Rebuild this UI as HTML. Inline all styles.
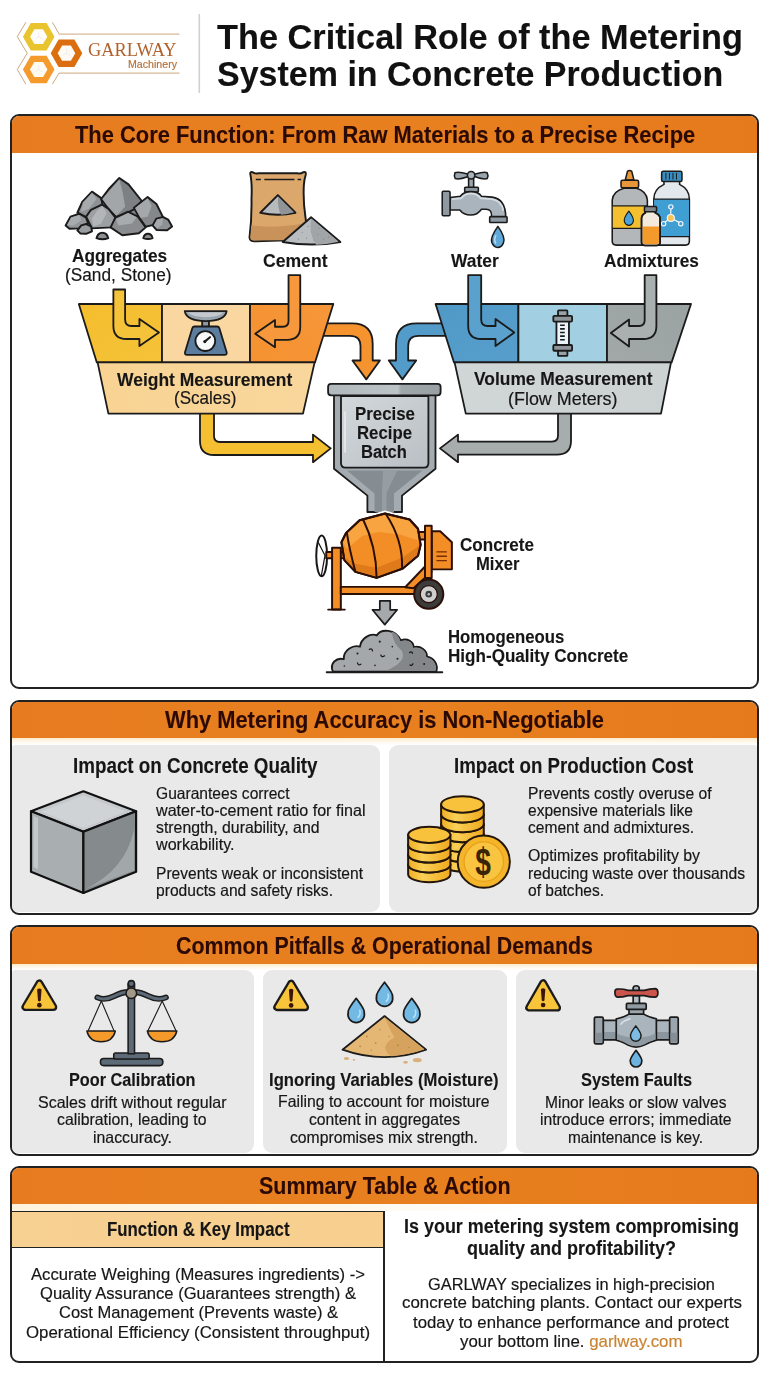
<!DOCTYPE html>
<html lang="en"><head><meta charset="utf-8"><title>The Critical Role of the Metering System in Concrete Production</title>
<style>
html,body{margin:0;padding:0;background:#fff}
#page{position:relative;width:768px;height:1376px;overflow:hidden;background:#fff;font-family:"Liberation Sans",sans-serif}
.box{position:absolute;left:9.9px;width:749.4px;box-sizing:border-box;border:2px solid #222;border-radius:9px;background:#fff;overflow:hidden}
.hd{position:absolute;left:0;top:0;right:0;background:linear-gradient(90deg,#E67C1F 0%,#E8801F 55%,#E57A1C 100%)}
.card{position:absolute;background:#E9E9E9;border-radius:9px}
.strip{position:absolute;left:0;right:0;background:linear-gradient(180deg,#FDEBCB 0%,#FEF8EC 55%,#FFFFFF 100%)}
#art{position:absolute;left:0;top:0;width:768px;height:1376px}
.t{position:absolute;white-space:nowrap;line-height:1;transform-origin:0 0;margin:0;padding:0}
</style></head>
<body><div id="page">

<div class="box" style="top:114.2px;height:575px"><div class="hd" style="height:37.3px"></div></div>
<div class="box" style="top:699.8px;height:215.2px"><div class="hd" style="height:36.6px"></div>
  <div class="strip" style="top:36.6px;height:6.3px"></div>
  <div class="card" style="left:0;top:42.9px;width:368px;height:167.5px;border-top-left-radius:3px;border-bottom-left-radius:6px"></div>
  <div class="card" style="left:377px;top:42.9px;width:368.4px;height:167.5px;border-top-right-radius:3px;border-bottom-right-radius:6px"></div>
</div>
<div class="box" style="top:925.3px;height:230.3px"><div class="hd" style="height:36.5px"></div>
  <div class="strip" style="top:36.5px;height:6.3px"></div>
  <div class="card" style="left:0;top:42.8px;width:242px;height:182.5px;border-top-left-radius:3px;border-bottom-left-radius:6px"></div>
  <div class="card" style="left:251px;top:42.8px;width:244px;height:182.5px"></div>
  <div class="card" style="left:504px;top:42.8px;width:241.4px;height:182.5px;border-top-right-radius:3px;border-bottom-right-radius:6px"></div>
</div>
<div class="box" style="top:1165.7px;height:197.3px"><div class="hd" style="height:36.4px"></div>
  <div style="position:absolute;left:0;right:0;top:36.4px;height:7px;background:linear-gradient(90deg,#FEF3DC 0%,#FEF8EA 40%,#FFFFFF 70%)"></div>
  <div style="position:absolute;left:0;top:43.2px;width:373.5px;height:37px;background:linear-gradient(90deg,#F7D192,#F8CF8F);border-top:1.5px solid #222;border-bottom:1.5px solid #222;box-sizing:border-box"></div>
  <div style="position:absolute;left:371.6px;top:43.2px;width:2px;bottom:0;background:#222"></div>
</div>

<svg id="art" viewBox="0 0 768 1376" width="768" height="1376"><defs>
<linearGradient id="gLabL" x1="0" x2="1" y1="0" y2="0"><stop offset="0" stop-color="#F8D393"/><stop offset="1" stop-color="#F9D79C"/></linearGradient>
<linearGradient id="gLabR" x1="0" x2="1" y1="0" y2="0"><stop offset="0" stop-color="#D1D6D7"/><stop offset="1" stop-color="#CCD1D2"/></linearGradient>
<linearGradient id="gFun" x1="0" x2="1" y1="0" y2="1"><stop offset="0" stop-color="#D3D8DB"/><stop offset="1" stop-color="#B9BFC4"/></linearGradient>
<linearGradient id="gRim" x1="0" x2="1" y1="0" y2="0"><stop offset="0" stop-color="#B2B9BD"/><stop offset=".62" stop-color="#BDC4C7"/><stop offset=".65" stop-color="#9FA7AB"/><stop offset="1" stop-color="#98A0A4"/></linearGradient>
<linearGradient id="gCoin" x1="0" x2="1" y1="0" y2="0"><stop offset="0" stop-color="#F0AE22"/><stop offset=".35" stop-color="#FAD056"/><stop offset="1" stop-color="#EFA91E"/></linearGradient>
<linearGradient id="gYel" x1="0" x2="1" y1="0" y2="1"><stop offset="0" stop-color="#F4BD2D"/><stop offset="1" stop-color="#F5C339"/></linearGradient>
<linearGradient id="gOra" x1="0" x2="1" y1="1" y2="0"><stop offset="0" stop-color="#F59130"/><stop offset="1" stop-color="#F6973A"/></linearGradient>
<linearGradient id="gBlu" x1="0" x2="1" y1="0" y2="1"><stop offset="0" stop-color="#5099C7"/><stop offset="1" stop-color="#579ECC"/></linearGradient>
<linearGradient id="gGry" x1="0" x2="1" y1="1" y2="0"><stop offset="0" stop-color="#A1A8A7"/><stop offset="1" stop-color="#9BA3A2"/></linearGradient>
</defs><!-- LOGO -->
<g fill="none" stroke="#B98248" stroke-width="0.7">
  <polyline points="25.8,22.3 17.3,36.7 27.2,53.2 17.3,69.5 25.8,84.1"/>
  <polyline points="52.4,22.3 59.2,34.1 179.5,34.1"/>
  <polyline points="52.4,84.1 59,73.1 179.5,73.1"/>
</g>
<polygon points="54.5,36.7 46.6,50.4 30.8,50.4 22.9,36.7 30.8,23.0 46.6,23.0" fill="#EAC42E"/>
<polygon points="47.3,36.7 43.0,44.1 34.4,44.1 30.1,36.7 34.4,29.3 43.0,29.3" fill="#FFFDF6"/>
<polygon points="82.3,53.2 74.4,66.9 58.6,66.9 50.7,53.2 58.6,39.5 74.4,39.5" fill="#DB6F10"/>
<polygon points="75.3,53.2 70.9,60.8 62.1,60.8 57.7,53.2 62.1,45.6 70.9,45.6" fill="#FFFBF4"/>
<polygon points="54.5,69.5 46.6,83.2 30.8,83.2 22.9,69.5 30.8,55.8 46.6,55.8" fill="#F59A2C"/>
<polygon points="47.5,69.5 43.1,77.1 34.3,77.1 29.9,69.5 34.3,61.9 43.1,61.9" fill="#FFFBF2"/>
<g stroke="#E4EAEC" stroke-width="0.7" fill="none"><path d="M38.7,36.7 L38.7,32.2 M38.7,36.7 L34.8,39.0 M38.7,36.7 L42.6,39.0"/><path d="M66.5,53.2 L66.5,48.7 M66.5,53.2 L62.6,55.5 M66.5,53.2 L70.4,55.5"/><path d="M38.7,69.5 L38.7,65.0 M38.7,69.5 L34.8,71.8 M38.7,69.5 L42.6,71.8"/></g>
<line x1="199.3" y1="14" x2="199.3" y2="93" stroke="#D0D0D0" stroke-width="1.6"/>

<!-- ROCKS (Aggregates) -->
<g transform="translate(50,160) scale(0.1953)" stroke="#1b1b1b" stroke-width="10" stroke-linejoin="round">
  <path d="M200,270 L290,215 L450,240 L520,320 L200,340Z" fill="#808386" stroke="none"/>
  <path d="M140,270 L165,215 L215,162 L262,195 L270,235 L210,262 L185,292 Z" fill="#8f9295"/>
  <path d="M168,218 L215,168 L238,200 L200,250 L160,265Z" fill="#a7aaad" stroke="none"/>
  <path d="M262,200 L300,150 L355,92 L402,125 L470,210 L432,252 L400,268 L340,292 L300,250 Z" fill="#7e8184"/>
  <path d="M268,200 L355,99 L372,165 L385,240 L340,286 L303,247Z" fill="#a3a6a9" stroke="none"/>
  <path d="M430,245 L500,190 L545,225 L580,295 L530,332 L490,342 L460,300 Z" fill="#85888b"/>
  <path d="M436,246 L500,196 L520,235 L500,290 L463,296Z" fill="#a5a8ab" stroke="none"/>
  <path d="M80,335 L105,290 L150,275 L185,295 L195,325 L150,350 L100,352 Z" fill="#94979a"/>
  <path d="M88,333 L108,294 L150,281 L160,310 L120,335Z" fill="#a9acaf" stroke="none"/>
  <path d="M185,290 L210,255 L265,228 L300,250 L335,295 L315,345 L215,350 Z" fill="#9da0a3"/>
  <path d="M215,300 L240,262 L268,235 L290,270 L262,325 L222,340Z" fill="#b3b6b9" stroke="none"/>
  <path d="M525,335 L545,300 L580,292 L605,305 L625,340 L600,360 L545,358 Z" fill="#8e9194"/>
  <path d="M532,334 L549,304 L578,298 L575,330 L550,350Z" fill="#a6a9ac" stroke="none"/>
  <path d="M310,345 L335,295 L400,265 L450,290 L490,345 L455,375 L370,385 Z" fill="#8a8d90"/>
  <path d="M338,302 L400,271 L444,293 L420,325 L350,335Z" fill="#a8abae" stroke="none"/>
  <path d="M140,360 L160,335 L185,328 L210,340 L215,365 L185,378 L155,376Z" fill="#9a9da0"/>
  <path d="M238,400 Q245,372 268,372 Q292,372 298,400 Q270,412 238,400Z" fill="#8d9093"/>
  <path d="M478,400 Q483,378 502,378 Q520,378 525,400 Q502,410 478,400Z" fill="#8d9093"/>
</g>

<!-- CEMENT BAG -->
<g transform="translate(230,160) scale(0.1953)" stroke="#1b1b1b" stroke-width="10" stroke-linejoin="round">
  <path d="M104,72 Q102,60 114,62 Q128,72 145,68 L345,68 Q362,72 376,62 Q390,58 388,74 Q380,100 378,130 Q374,210 386,290 Q397,360 392,398 Q392,416 374,414 L290,411 L132,416 Q102,420 100,398 Q112,300 110,200 Q114,120 104,72 Z" fill="#DBA76B"/>
  <path d="M109,335 Q220,352 390,322 Q396,360 392,398 Q391,412 374,410 L132,412 Q106,414 104,398 Z" fill="#C9925B" stroke="none"/>
  <path d="M132,100 L158,100 M176,100 L330,100 M346,100 L364,100" stroke-width="7" fill="none"/>
  <path d="M155,270 L245,180 L335,270 Q245,290 155,270 Z" fill="#B7BBBE"/>
  <path d="M247,188 L328,268 Q290,279 262,280 Q240,240 247,188 Z" fill="#909497" stroke="none"/>
  <path d="M270,420 L415,293 L565,420 Q420,446 270,420Z" fill="#B9BDC0"/>
  <path d="M417,300 L556,418 Q490,432 440,434 Q400,370 417,300 Z" fill="#A1A5A8" stroke="none"/>
  <g fill="#7d8184" stroke="none"><circle cx="370" cy="370" r="3"/><circle cx="400" cy="340" r="3"/><circle cx="350" cy="405" r="3"/><circle cx="450" cy="380" r="3"/><circle cx="480" cy="405" r="3"/><circle cx="430" cy="410" r="3"/><circle cx="505" cy="395" r="3"/><circle cx="392" cy="400" r="3"/><circle cx="455" cy="350" r="3"/></g>
</g>

<!-- WATER TAP -->
<g transform="translate(410,160) scale(0.1953)" stroke="#1b1b1b" stroke-width="8" stroke-linejoin="round">
  <rect x="300" y="92" width="26" height="55" fill="#9aa4ac"/>
  <path d="M230,65 Q224,80 232,95 Q250,102 295,86 L335,86 Q380,102 395,95 Q403,80 395,65 Q380,58 335,72 L295,72 Q250,58 230,65Z" fill="#9aa4ac"/>
  <circle cx="313" cy="78" r="19" fill="#aab3ba"/>
  <rect x="280" y="140" width="70" height="24" rx="4" fill="#8c969e"/>
  <path d="M205,192 L258,186 Q275,162 312,162 Q350,162 366,186 L420,190 Q490,200 490,292 L418,292 Q420,252 390,252 L366,252 Q345,282 310,282 Q275,282 255,256 L205,256 Z" fill="#A9B4BD"/>
  <path d="M215,200 L262,196 Q280,172 312,172 Q345,172 362,196 L420,200 Q470,208 478,260" fill="none" stroke="#D5DDE3" stroke-width="9"/>
  <rect x="165" y="160" width="40" height="125" rx="6" fill="#8E99A2"/>
  <rect x="408" y="290" width="89" height="30" rx="4" fill="#8E99A2"/>
  <path d="M450,340 Q492,398 478,426 Q468,448 450,448 Q428,446 419,422 Q410,396 450,340Z" fill="#5FA8D8"/>
  <path d="M440,385 Q428,410 440,428" fill="none" stroke="#BFE0F3" stroke-width="7"/>
</g>

<!-- ADMIXTURE BOTTLES -->
<g transform="translate(580,160) scale(0.1953)" stroke="#1b1b1b" stroke-width="8" stroke-linejoin="round">
  <!-- right bottle -->
  <path d="M378,200 Q378,150 430,125 L430,108 L510,108 L510,125 Q560,150 560,200 L560,415 Q560,436 540,436 L400,436 Q378,436 378,415Z" fill="#E3E8EC"/>
  <rect x="380" y="200" width="178" height="192" fill="#3F9FD2" stroke="none"/>
  <path d="M378,200 L560,200 M378,392 L560,392" fill="none" stroke-width="6"/>
  <rect x="418" y="58" width="104" height="52" rx="8" fill="#3A8DBF"/>
  <path d="M440,66 L440,100 M458,66 L458,100 M476,66 L476,100 M494,66 L494,100" stroke-width="5" fill="none"/>
  <g stroke="#F4F8FA" stroke-width="6" fill="none"><path d="M465,250 L465,285 M452,305 L432,322 M480,305 L512,322"/></g>
  <circle cx="465" cy="240" r="11" fill="#3F9FD2" stroke="#F4F8FA" stroke-width="6"/>
  <circle cx="428" cy="326" r="11" fill="#3F9FD2" stroke="#F4F8FA" stroke-width="6"/>
  <circle cx="516" cy="326" r="11" fill="#3F9FD2" stroke="#F4F8FA" stroke-width="6"/>
  <circle cx="465" cy="297" r="18" fill="#F6C25A" stroke="#F4F8FA" stroke-width="6"/>
  <!-- left bottle -->
  <path d="M165,205 Q170,160 225,145 L290,145 Q340,160 345,205 L345,415 Q345,436 325,436 L185,436 Q165,436 165,415 Z" fill="#B3B7BA"/>
  <rect x="168" y="235" width="174" height="115" fill="#F5C030" stroke="none"/>
  <path d="M165,235 L345,235 M165,350 L345,350" fill="none" stroke-width="6"/>
  <path d="M250,262 Q280,300 272,318 Q265,335 250,335 Q235,335 228,318 Q220,300 250,262Z" fill="#4AA3D8" stroke-width="6"/>
  <path d="M232,102 L243,58 Q254,49 265,58 L276,102Z" fill="#E8963A"/>
  <rect x="210" y="104" width="90" height="38" rx="8" fill="#E8963A"/>
  <!-- small bottle -->
  <path d="M315,300 Q315,280 335,270 L335,260 L385,260 L385,270 Q410,280 410,300 L410,420 Q410,438 392,438 L333,438 Q315,438 315,420Z" fill="#F3EADC"/>
  <path d="M320,340 L405,340 L405,420 Q405,432 392,432 L333,432 Q320,432 320,420Z" fill="#F39A2B" stroke="none"/>
  <path d="M315,300 Q315,280 335,270 L335,260 L385,260 L385,270 Q410,280 410,300 L410,420 Q410,438 392,438 L333,438 Q315,438 315,420Z" fill="none"/>
  <rect x="330" y="238" width="62" height="27" rx="5" fill="#7F8589"/>
</g>
<!-- FLOW DIAGRAM -->
<g stroke="#1b1b1b" stroke-width="1.8" stroke-linejoin="round">
  <!-- exit arrows (under hoppers) -->
  <path d="M326,323.4 L352,323.4 Q372.7,323.4 372.7,344 L372.7,360.5 L379.9,360.5 L366.3,379.4 L352.5,360.5 L360.5,360.5 L360.5,346 Q360.5,335.8 350,335.8 L322,335.8 Z" fill="#F5932F"/>
  <path d="M443,323.4 L416.7,323.4 Q396,323.4 396,344 L396,360.5 L388.8,360.5 L402.4,379.4 L416.2,360.5 L408.2,360.5 L408.2,346 Q408.2,335.8 418.7,335.8 L446,335.8 Z" fill="#539BC9"/>
  <!-- arrows to funnel -->
  <path d="M200,410 L200,441 Q200,455 214,455 L313,455 L313,462.2 L330.7,448.4 L313,434.6 L313,442 L220,442 Q214,442 214,436 L214,410 Z" fill="#F4BF30"/>
  <path d="M571,410 L571,441 Q571,454.6 557,454.6 L458,454.6 L458,462.2 L440,448.4 L458,434.6 L458,441.6 L552,441.6 Q558,441.6 558,435.6 L558,410 Z" fill="#A6ADAC"/>

  <!-- LEFT HOPPER -->
  <path d="M78.8,304 L162,304 L162,362.4 L96.8,362.4 Z" fill="url(#gYel)"/>
  <path d="M162,304 L250,304 L250,362.4 L162,362.4 Z" fill="#FAD7A0"/>
  <path d="M250,304 L333.3,304 L315,362.4 L250,362.4 Z" fill="url(#gOra)"/>
  <path d="M97.6,362.4 L314.6,362.4 L303,413.6 L108.4,413.6 Z" fill="url(#gLabL)"/>
  <!-- RIGHT HOPPER -->
  <path d="M435.6,304 L518.4,304 L518.4,362.4 L454,362.4 Z" fill="url(#gBlu)"/>
  <path d="M518.4,304 L607,304 L607,362.4 L518.4,362.4 Z" fill="#A3CFE2"/>
  <path d="M607,304 L691,304 L671.6,362.4 L607,362.4 Z" fill="url(#gGry)"/>
  <path d="M454.6,362.4 L671,362.4 L661,413.6 L465.8,413.6 Z" fill="url(#gLabR)"/>
</g>
<!-- input arrows -->
<g stroke="#1b1b1b" stroke-width="7" stroke-linejoin="round">
  <path transform="translate(60,270) scale(0.2604)" d="M205,75 L205,215 Q205,265 255,265 L305,265 L305,292 L380,240 L305,188 L305,215 L275,215 Q250,215 250,190 L250,75 Z" fill="#F5C339"/>
  <path transform="translate(200,270) scale(0.2604)" d="M385,20 L385,218 Q385,268 335,268 L288,268 L288,297 L212,245 L288,192 L288,218 L318,218 Q340,218 340,196 L340,20 Z" fill="#F6983B"/>
  <path transform="translate(420,270) scale(0.2604)" d="M185,20 L185,215 Q185,265 235,265 L290,265 L290,292 L362,240 L290,188 L290,215 L260,215 Q235,215 235,190 L235,20 Z" fill="#5BA1CE"/>
  <path transform="translate(540,270) scale(0.2604)" d="M447,20 L447,215 Q447,265 397,265 L342,265 L342,294 L272,242 L342,190 L342,215 L380,215 Q402,215 402,193 L402,20 Z" fill="#AAB0B0"/>
</g>
<!-- scale icon -->
<g transform="translate(60,270) scale(0.2604)" stroke="#1b1b1b" stroke-width="7" stroke-linejoin="round">
  <rect x="546" y="190" width="26" height="32" fill="#8E99A2"/>
  <path d="M479,158 L640,158 Q634,196 560,196 Q486,196 479,158Z" fill="#9AA4AC"/>
  <path d="M492,163 L628,163 Q610,180 560,181 Q510,180 492,163Z" fill="#C3C9CE" stroke="none"/>
  <path d="M517,217 L603,217 Q610,217 612,224 L640,316 Q642,326 632,326 L488,326 Q478,326 480,316 L508,224 Q510,217 517,217Z" fill="#5C7D9E"/>
  <circle cx="558" cy="273" r="38" fill="#F7F9FA"/>
  <path d="M558,273 L576,258" stroke-width="8" stroke-linecap="round"/>
  <circle cx="556" cy="275" r="6" fill="#1b1b1b" stroke="none"/>
</g>
<!-- flow meter icon -->
<g transform="translate(420,270) scale(0.2604)" stroke="#1b1b1b" stroke-width="7" stroke-linejoin="round">
  <rect x="530" y="155" width="36" height="22" rx="3" fill="#9AA1A6"/>
  <rect x="530" y="308" width="36" height="22" rx="3" fill="#9AA1A6"/>
  <rect x="524" y="196" width="48" height="94" fill="#EAF4FA"/>
  <rect x="512" y="176" width="72" height="22" rx="4" fill="#8F969B"/>
  <rect x="512" y="288" width="72" height="22" rx="4" fill="#8F969B"/>
  <path d="M538,212 L556,212 M538,226 L556,226 M538,240 L556,240 M538,254 L556,254 M538,268 L556,268" stroke-width="6"/>
</g>

<!-- FUNNEL -->
<g stroke="#1b1b1b" stroke-width="1.8" stroke-linejoin="round">
  <path d="M334,394.9 L334,468.7 L367.4,495.6 L367.4,512 L402,512 L402,495.6 L435.5,468.7 L435.5,394.9 Z" fill="#A5ACB1"/>
  <path d="M347,470.5 L422.5,470.5 L394,493.5 L394,512 L374.5,512 L374.5,493.5 Z" fill="#868D92" stroke="none"/>
  <path d="M383,471 L397,471 L386.5,493 L386.5,512 L382,512 L382,493Z" fill="#979EA3" stroke="none"/>
  <path d="M341,396 L428.4,396 L428.4,463 Q428.4,467.6 424,467.6 L345.4,467.6 Q341,467.6 341,463 Z" fill="url(#gFun)"/>
  <rect x="328.1" y="383.8" width="112.5" height="11.5" rx="3" fill="url(#gRim)"/>
</g>
<path d="M345,412 L345,452" stroke="#E8ECEF" stroke-width="1.6" stroke-linecap="round"/>

<!-- MIXER -->
<g transform="translate(300,480) scale(0.20833)" stroke="#2A0F07" stroke-width="9.5" stroke-linejoin="round">
  <ellipse cx="104" cy="364" rx="26" ry="98" fill="#fff" stroke="#161616"/>
  <path d="M88,300 L120,362 L102,462" stroke-width="6" stroke="#161616" fill="none"/>
  <rect x="126" y="346" width="112" height="30" fill="#F38E26"/>
  <rect x="154" y="325" width="42" height="297" fill="#F38E26"/>
  <path d="M135,622 L215,622" stroke-width="9" stroke-linecap="round"/>
  <rect x="196" y="513" width="366" height="34" fill="#F38E26"/>
  <polygon points="600,415 632,440 545,520 505,515" fill="#F38E26"/>
  <path d="M632,246 L673,246 L729,299 L729,429 L632,429 Z" fill="#F38E26"/>
  <path d="M655,345 L705,345 M655,366 L705,366 M655,387 L705,387" stroke="#7A2D05" stroke-width="7"/>
  <rect x="568" y="250" width="34" height="36" fill="#F38E26"/>
  <rect x="600" y="220" width="32" height="250" fill="#F38E26"/>
  <path d="M262,212 L286,193.5 L408,161 L526,189.5 L545,210" fill="none" stroke="#fff" stroke-width="28" stroke-linecap="round"/>
  <path d="M199,299 L221,254 L286,193.5 L408,161 L526,189.5 L566.5,234 L579,311 L566.5,364 L493.5,425 L367.5,470 L266,441 L213,384.5 Z" fill="#F38E26"/>
  <path d="M226,258 L289,200 L408,169 L521,196 L559,238 L568,290 L480,262 L380,250 L300,268 L225,330 L207,300Z" fill="#F8A541" stroke="none"/>
  <path d="M217,386 L268,437 L367.5,464 L491,420 L562,361 L574,313 L493,372 L367,421 L268,402 L213,372Z" fill="#DF7A1B" stroke="none"/>
  <path d="M225,254 Q237,332 266,441 M302,187 Q367,320 367.5,468 M412,163 Q495,288 490,425" fill="none" stroke-width="9.5"/>
  <path d="M199,299 L221,254 L286,193.5 L408,161 L526,189.5 L566.5,234 L579,311 L566.5,364 L493.5,425 L367.5,470 L266,441 L213,384.5 Z" fill="none"/>
  <circle cx="618" cy="548" r="70" fill="#3C3C3C"/>
  <circle cx="618" cy="548" r="41" fill="#CFCFCF" stroke-width="6"/>
  <circle cx="618" cy="548" r="16" fill="#3C3C3C" stroke="none"/>
  <circle cx="618" cy="548" r="6" fill="#BDBDBD" stroke="none"/>
</g>
<!-- down arrow -->
<path d="M379.8,600.8 L390.2,600.8 L390.2,609.8 L397.2,609.8 L384.8,624.6 L372.4,609.8 L379.8,609.8Z" fill="#A6A9AC" stroke="#1b1b1b" stroke-width="1.7" stroke-linejoin="round"/>
<!-- concrete pile -->
<g transform="translate(310,590) scale(0.20833)" stroke="#1b1b1b" stroke-width="9" stroke-linejoin="round">
  <path d="M110,392 C92,352 128,322 162,332 C160,290 205,262 240,272 C245,232 290,205 320,218 C340,185 410,185 436,242 C468,228 498,250 497,274 C532,266 562,290 562,320 C598,326 616,362 606,392 Z" fill="#A5A8AB"/>
  <path d="M392,200 C415,205 430,225 434,246 C466,234 494,252 493,278 C530,270 558,292 558,323 C594,330 610,362 601,389 L360,389 Q470,345 440,290 Q400,260 392,200Z" fill="#84878A" stroke="none"/>
  <path d="M80,395 L635,395" stroke-linecap="round"/>
  <g fill="#222" stroke="none">
    <circle cx="228" cy="305" r="5"/><circle cx="335" cy="248" r="5"/><circle cx="165" cy="365" r="4"/><circle cx="420" cy="330" r="5"/><circle cx="548" cy="355" r="5"/><circle cx="395" cy="272" r="4"/><circle cx="312" cy="362" r="4"/>
  </g>
  <g fill="none" stroke-width="6" stroke-linecap="round">
    <path d="M285,285 Q298,278 300,292"/><path d="M340,312 Q345,326 358,316"/><path d="M228,350 Q232,364 244,356"/><path d="M478,300 Q488,292 492,304"/><path d="M480,360 Q488,366 494,354"/>
  </g>
</g>
<!-- CUBE -->
<g stroke="#111" stroke-width="2.2" stroke-linejoin="round">
  <polygon points="83.4,791.3 136.1,811.3 83.4,831.8 31,811.3" fill="#C4C8CA"/>
  <polygon points="31,811.3 83.4,831.8 83.4,892.9 31,871.8" fill="#A9AEB1"/>
  <polygon points="83.4,831.8 136.1,811.3 136.1,871.8 83.4,892.9" fill="#858A8D"/>
</g>
<polygon points="83.4,795.5 126,811.5 83.4,828 41,811.5" fill="#CFD3D5"/>
<polygon points="33.5,816 38,818 38,869 33.5,867" fill="#C3C8CA"/>
<path d="M85.5,889 Q125,870 134,830 L134,870.5 Z" fill="#A2A7AA"/>
<!-- COINS -->
<g transform="translate(395,780) scale(0.18229)" stroke="#24160A" stroke-width="11" stroke-linejoin="round">
  <path d="M253,404 L253,458 A117,45 0 0 0 487,458 L487,404 Z" fill="url(#gCoin)"/>
  <path d="M253,404 A117,45 0 0 0 487,404" fill="none"/>
  <path d="M253,350 L253,404 A117,45 0 0 0 487,404 L487,350 Z" fill="url(#gCoin)"/>
  <path d="M253,350 A117,45 0 0 0 487,350" fill="none"/>
  <path d="M253,296 L253,350 A117,45 0 0 0 487,350 L487,296 Z" fill="url(#gCoin)"/>
  <path d="M253,296 A117,45 0 0 0 487,296" fill="none"/>
  <path d="M253,242 L253,296 A117,45 0 0 0 487,296 L487,242 Z" fill="url(#gCoin)"/>
  <path d="M253,242 A117,45 0 0 0 487,242" fill="none"/>
  <path d="M253,188 L253,242 A117,45 0 0 0 487,242 L487,188 Z" fill="url(#gCoin)"/>
  <path d="M253,188 A117,45 0 0 0 487,188" fill="none"/>
  <path d="M253,134 L253,188 A117,45 0 0 0 487,188 L487,134 Z" fill="url(#gCoin)"/>
  <ellipse cx="370" cy="134" rx="117" ry="45" fill="#F8C23C"/>
  <path d="M72,463 L72,517 A116,44 0 0 0 304,517 L304,463 Z" fill="url(#gCoin)"/>
  <path d="M72,463 A116,44 0 0 0 304,463" fill="none"/>
  <path d="M72,409 L72,463 A116,44 0 0 0 304,463 L304,409 Z" fill="url(#gCoin)"/>
  <path d="M72,409 A116,44 0 0 0 304,409" fill="none"/>
  <path d="M72,355 L72,409 A116,44 0 0 0 304,409 L304,355 Z" fill="url(#gCoin)"/>
  <path d="M72,355 A116,44 0 0 0 304,355" fill="none"/>
  <path d="M72,301 L72,355 A116,44 0 0 0 304,355 L304,301 Z" fill="url(#gCoin)"/>
  <ellipse cx="188" cy="301" rx="116" ry="44" fill="#F8C23C"/>
  <circle cx="487" cy="448" r="143" fill="#F5B52A"/>
  <circle cx="487" cy="448" r="108" fill="#F9C440" stroke="#E9A21C" stroke-width="7"/>
</g>
<text transform="translate(483,875) scale(0.74,1)" font-family="Liberation Sans, sans-serif" font-weight="700" font-size="38" text-anchor="middle" fill="#3A2408">$</text>
<!-- WARNING TRIANGLES -->
<g transform="translate(15,970) scale(0.22135)">
  <path d="M110,61 L47,167 L173,167Z" fill="#1b1b1b" stroke="#1b1b1b" stroke-width="36" stroke-linejoin="round"/>
  <path d="M110,61 L47,167 L173,167Z" fill="#F7C43A" stroke="#F7C43A" stroke-width="15" stroke-linejoin="round"/>
  <path d="M100,88 Q110,80 120,88 L116,139 Q110,145 104,139Z" fill="#3A1608"/><circle cx="110" cy="159" r="10.5" fill="#3A1608"/>
</g>
<g transform="translate(265,970) scale(0.22135)">
  <path d="M118,62 L55,168 L181,168Z" fill="#1b1b1b" stroke="#1b1b1b" stroke-width="36" stroke-linejoin="round"/>
  <path d="M118,62 L55,168 L181,168Z" fill="#F7C43A" stroke="#F7C43A" stroke-width="15" stroke-linejoin="round"/>
  <path d="M108,89 Q118,81 128,89 L124,140 Q118,146 112,140Z" fill="#3A1608"/><circle cx="118" cy="160" r="10.5" fill="#3A1608"/>
</g>
<g transform="translate(515,970) scale(0.22135)">
  <path d="M127,60 L64,170 L190,170Z" fill="#1b1b1b" stroke="#1b1b1b" stroke-width="36" stroke-linejoin="round"/>
  <path d="M127,60 L64,170 L190,170Z" fill="#F7C43A" stroke="#F7C43A" stroke-width="15" stroke-linejoin="round"/>
  <path d="M117,87 Q127,79 137,87 L133,138 Q127,144 121,138Z" fill="#3A1608"/><circle cx="127" cy="158" r="10.5" fill="#3A1608"/>
</g>
<!-- BALANCE SCALE -->
<g transform="translate(15,970) scale(0.22135)" stroke="#1b1b1b" stroke-width="7" stroke-linejoin="round">
  <rect x="386" y="400" width="282" height="32" rx="15" fill="#5D6B78"/>
  <rect x="446" y="375" width="160" height="27" rx="8" fill="#5D6B78"/>
  <rect x="511" y="62" width="29" height="316" fill="#5D6B78"/>
  <circle cx="525.5" cy="62" r="14" fill="#5D6B78"/>
  <path d="M390,140 L330,276 M390,140 L448,276 M665,140 L600,276 M665,140 L728,276" stroke-width="5" fill="none"/>
  <path d="M372,124 Q405,140 448,118 Q490,96 525,100 Q560,96 603,118 Q646,140 682,124" fill="none" stroke-width="26" stroke-linecap="round"/>
  <path d="M372,124 Q405,140 448,118 Q490,96 525,100 Q560,96 603,118 Q646,140 682,124" fill="none" stroke="#5D6B78" stroke-width="13" stroke-linecap="round"/>
  <circle cx="525.5" cy="105" r="24" fill="#A49988"/>
  <path d="M325,276 L453,276 Q442,324 389,324 Q336,324 325,276Z" fill="#F39A2B"/>
  <path d="M598,276 L731,276 Q720,324 664,324 Q609,324 598,276Z" fill="#F39A2B"/>
</g>

<!-- SAND + DROPS -->
<g transform="translate(265,970) scale(0.22135)" stroke="#1b1b1b" stroke-width="8" stroke-linejoin="round">
  <ellipse cx="368" cy="400" rx="12" ry="7" fill="#D9B07A" stroke="none"/>
  <ellipse cx="402" cy="406" rx="6" ry="4" fill="#D9B07A" stroke="none"/>
  <ellipse cx="688" cy="407" rx="20" ry="10" fill="#D9B07A" stroke="none"/>
  <ellipse cx="635" cy="417" rx="11" ry="6" fill="#D9B07A" stroke="none"/>
  <path d="M350,360 L540,208 L728,360 Q540,428 350,360Z" fill="#E5B774"/>
  <path d="M540,214 L720,359 Q650,382 570,390 Q510,345 585,305 Q560,262 540,214Z" fill="#D6A35E" stroke="none"/>
  <g fill="#B98545" stroke="none"><circle cx="460" cy="300" r="4"/><circle cx="500" cy="330" r="4"/><circle cx="430" cy="345" r="4"/><circle cx="520" cy="270" r="3"/><circle cx="600" cy="340" r="4"/><circle cx="650" cy="350" r="3"/><circle cx="480" cy="362" r="3"/><circle cx="560" cy="300" r="3"/></g>
  <path d="M412,128 Q452,180 448,192 A37,37 0 1 1 376,192 Q372,180 412,128Z" fill="#72B9E4"/>
  <path d="M540,55 Q580,107 576,119 A37,37 0 1 1 504,119 Q500,107 540,55Z" fill="#72B9E4"/>
  <path d="M663,128 Q703,180 699,192 A37,37 0 1 1 627,192 Q623,180 663,128Z" fill="#72B9E4"/>
  <g fill="none" stroke="#B9E0F4" stroke-width="7" stroke-linecap="round"><path d="M428,182 Q434,202 420,214"/><path d="M556,109 Q562,129 548,141"/><path d="M679,182 Q685,202 671,214"/></g>
</g>

<!-- VALVE -->
<g transform="translate(585,980) scale(0.1302)" stroke="#1b1b1b" stroke-width="13" stroke-linejoin="round">
  <circle cx="393" cy="68" r="24" fill="#A9B4BC"/>
  <rect x="370" y="120" width="48" height="68" fill="#B4BEC5"/>
  <path d="M245,70 Q228,72 230,98 Q230,128 250,132 Q290,132 330,120 L455,120 Q500,132 540,132 Q560,128 560,98 Q560,70 540,66 Q500,66 455,80 L330,80 Q290,66 245,70Z" fill="#CB554B"/>
  <rect x="140" y="310" width="110" height="150" fill="#A9B4BC"/>
  <rect x="545" y="310" width="110" height="150" fill="#A9B4BC"/>
  <path d="M146,400 L250,400 L250,454 L146,454Z M545,400 L650,400 L650,454 L545,454Z" fill="#8B969E" stroke="none"/>
  <rect x="338" y="222" width="112" height="48" fill="#9AA5AD"/>
  <rect x="318" y="180" width="152" height="46" rx="8" fill="#8F9AA2"/>
  <path d="M338,262 Q300,285 246,298 L240,298 L240,462 Q300,478 330,500 Q392,530 455,500 Q490,478 548,462 L548,298 Q490,285 450,262 Z" fill="#A9B4BC"/>
  <path d="M247,410 Q300,440 392,440 Q490,440 541,410 L541,457 Q490,474 452,496 Q392,522 333,496 Q300,474 247,457Z" fill="#8E99A1" stroke="none"/>
  <path d="M275,340 Q300,310 345,298" fill="none" stroke="#DCE3E8" stroke-width="11" stroke-linecap="round"/>
  <rect x="72" y="285" width="68" height="205" rx="10" fill="#9AA5AD"/>
  <rect x="650" y="285" width="66" height="205" rx="10" fill="#9AA5AD"/>
  <path d="M79,405 L133,405 L133,478 L79,478Z M657,405 L709,405 L709,478 L657,478Z" fill="#838E96" stroke="none"/>
  <path d="M390,352 Q436,412 430,430 A40,40 0 1 1 350,430 Q344,412 390,352Z" fill="#7DBBE3" stroke-width="11"/>
  <path d="M392,540 Q442,606 436,624 A44,44 0 1 1 348,624 Q342,606 392,540Z" fill="#6DB3E0"/>
</g>
</svg>
<div id="txt" style="position:absolute;left:0;top:0;width:768px;height:1376px;will-change:transform">
<span class="t" style='left:88.2px;top:41px;font-size:18.4px;font-weight:400;color:#B0602A;font-family:"Liberation Serif", serif;transform:scaleX(0.9956)'>GARLWAY</span>
<span class="t" style='left:127.7px;top:59px;font-size:10.8px;font-weight:400;color:#B5713A;font-family:"Liberation Sans", sans-serif;-webkit-text-stroke:0.18px;transform:scaleX(0.9837)'>Machinery</span>
<span class="t" style='left:216.8px;top:20px;font-size:35.8px;font-weight:700;color:#111;font-family:"Liberation Sans", sans-serif;-webkit-text-stroke:0.12px;transform:scaleX(0.9582)'>The Critical Role of the Metering</span>
<span class="t" style='left:216.8px;top:57px;font-size:35.8px;font-weight:700;color:#111;font-family:"Liberation Sans", sans-serif;-webkit-text-stroke:0.12px;transform:scaleX(0.9496)'>System in Concrete Production</span>
<span class="t" style='left:74.8px;top:124px;font-size:23.4px;font-weight:700;color:#2B0A05;font-family:"Liberation Sans", sans-serif;-webkit-text-stroke:0.12px;transform:scaleX(0.9356)'>The Core Function: From Raw Materials to a Precise Recipe</span>
<span class="t" style='left:71.8px;top:248px;font-size:17.8px;font-weight:700;color:#161616;font-family:"Liberation Sans", sans-serif;-webkit-text-stroke:0.12px;transform:scaleX(0.9731)'>Aggregates</span>
<span class="t" style='left:65.0px;top:267px;font-size:17.5px;font-weight:400;color:#161616;font-family:"Liberation Sans", sans-serif;-webkit-text-stroke:0.18px;transform:scaleX(0.9863)'>(Sand, Stone)</span>
<span class="t" style='left:262.5px;top:253px;font-size:17.8px;font-weight:700;color:#161616;font-family:"Liberation Sans", sans-serif;-webkit-text-stroke:0.12px;transform:scaleX(0.9890)'>Cement</span>
<span class="t" style='left:450.8px;top:253px;font-size:17.8px;font-weight:700;color:#161616;font-family:"Liberation Sans", sans-serif;-webkit-text-stroke:0.12px;transform:scaleX(0.9785)'>Water</span>
<span class="t" style='left:603.6px;top:253px;font-size:17.8px;font-weight:700;color:#161616;font-family:"Liberation Sans", sans-serif;-webkit-text-stroke:0.12px;transform:scaleX(0.9690)'>Admixtures</span>
<span class="t" style='left:117.2px;top:370px;font-size:19px;font-weight:700;color:#161616;font-family:"Liberation Sans", sans-serif;-webkit-text-stroke:0.12px;transform:scaleX(0.9190)'>Weight Measurement</span>
<span class="t" style='left:173.5px;top:389px;font-size:18.5px;font-weight:400;color:#161616;font-family:"Liberation Sans", sans-serif;-webkit-text-stroke:0.18px;transform:scaleX(0.9210)'>(Scales)</span>
<span class="t" style='left:474.0px;top:369px;font-size:19px;font-weight:700;color:#161616;font-family:"Liberation Sans", sans-serif;-webkit-text-stroke:0.12px;transform:scaleX(0.9155)'>Volume Measurement</span>
<span class="t" style='left:508.0px;top:390px;font-size:18.5px;font-weight:400;color:#161616;font-family:"Liberation Sans", sans-serif;-webkit-text-stroke:0.18px;transform:scaleX(0.9685)'>(Flow Meters)</span>
<span class="t" style='left:354.6px;top:405px;font-size:18px;font-weight:700;color:#161616;font-family:"Liberation Sans", sans-serif;-webkit-text-stroke:0.12px;transform:scaleX(0.9366)'>Precise</span>
<span class="t" style='left:357.0px;top:424px;font-size:18px;font-weight:700;color:#161616;font-family:"Liberation Sans", sans-serif;-webkit-text-stroke:0.12px;transform:scaleX(0.9317)'>Recipe</span>
<span class="t" style='left:361.4px;top:443px;font-size:18px;font-weight:700;color:#161616;font-family:"Liberation Sans", sans-serif;-webkit-text-stroke:0.12px;transform:scaleX(0.9177)'>Batch</span>
<span class="t" style='left:460.0px;top:536px;font-size:18px;font-weight:700;color:#161616;font-family:"Liberation Sans", sans-serif;-webkit-text-stroke:0.12px;transform:scaleX(0.9483)'>Concrete</span>
<span class="t" style='left:475.6px;top:555px;font-size:18px;font-weight:700;color:#161616;font-family:"Liberation Sans", sans-serif;-webkit-text-stroke:0.12px;transform:scaleX(0.9228)'>Mixer</span>
<span class="t" style='left:447.7px;top:628px;font-size:18px;font-weight:700;color:#161616;font-family:"Liberation Sans", sans-serif;-webkit-text-stroke:0.12px;transform:scaleX(0.9303)'>Homogeneous</span>
<span class="t" style='left:447.7px;top:647px;font-size:18px;font-weight:700;color:#161616;font-family:"Liberation Sans", sans-serif;-webkit-text-stroke:0.12px;transform:scaleX(0.9488)'>High-Quality Concrete</span>
<span class="t" style='left:165.0px;top:709px;font-size:23.4px;font-weight:700;color:#2B0A05;font-family:"Liberation Sans", sans-serif;-webkit-text-stroke:0.12px;transform:scaleX(0.9348)'>Why Metering Accuracy is Non-Negotiable</span>
<span class="t" style='left:73.2px;top:755px;font-size:21.2px;font-weight:700;color:#161616;font-family:"Liberation Sans", sans-serif;-webkit-text-stroke:0.12px;transform:scaleX(0.8878)'>Impact on Concrete Quality</span>
<span class="t" style='left:155.5px;top:785px;font-size:16.5px;font-weight:400;color:#161616;font-family:"Liberation Sans", sans-serif;-webkit-text-stroke:0.18px;transform:scaleX(0.9452)'>Guarantees correct</span>
<span class="t" style='left:155.5px;top:802px;font-size:16.5px;font-weight:400;color:#161616;font-family:"Liberation Sans", sans-serif;-webkit-text-stroke:0.18px;transform:scaleX(0.9763)'>water-to-cement ratio for final</span>
<span class="t" style='left:155.5px;top:819px;font-size:16.5px;font-weight:400;color:#161616;font-family:"Liberation Sans", sans-serif;-webkit-text-stroke:0.18px;transform:scaleX(0.9601)'>strength, durability, and</span>
<span class="t" style='left:155.5px;top:836px;font-size:16.5px;font-weight:400;color:#161616;font-family:"Liberation Sans", sans-serif;-webkit-text-stroke:0.18px;transform:scaleX(0.9765)'>workability.</span>
<span class="t" style='left:155.5px;top:865px;font-size:16.5px;font-weight:400;color:#161616;font-family:"Liberation Sans", sans-serif;-webkit-text-stroke:0.18px;transform:scaleX(0.9443)'>Prevents weak or inconsistent</span>
<span class="t" style='left:155.5px;top:882px;font-size:16.5px;font-weight:400;color:#161616;font-family:"Liberation Sans", sans-serif;-webkit-text-stroke:0.18px;transform:scaleX(0.9460)'>products and safety risks.</span>
<span class="t" style='left:453.7px;top:755px;font-size:21.2px;font-weight:700;color:#161616;font-family:"Liberation Sans", sans-serif;-webkit-text-stroke:0.12px;transform:scaleX(0.8832)'>Impact on Production Cost</span>
<span class="t" style='left:528.0px;top:785px;font-size:16.5px;font-weight:400;color:#161616;font-family:"Liberation Sans", sans-serif;-webkit-text-stroke:0.18px;transform:scaleX(0.9482)'>Prevents costly overuse of</span>
<span class="t" style='left:528.0px;top:802px;font-size:16.5px;font-weight:400;color:#161616;font-family:"Liberation Sans", sans-serif;-webkit-text-stroke:0.18px;transform:scaleX(0.9419)'>expensive materials like</span>
<span class="t" style='left:528.0px;top:819px;font-size:16.5px;font-weight:400;color:#161616;font-family:"Liberation Sans", sans-serif;-webkit-text-stroke:0.18px;transform:scaleX(0.9427)'>cement and admixtures.</span>
<span class="t" style='left:528.0px;top:847px;font-size:16.5px;font-weight:400;color:#161616;font-family:"Liberation Sans", sans-serif;-webkit-text-stroke:0.18px;transform:scaleX(0.9619)'>Optimizes profitability by</span>
<span class="t" style='left:528.0px;top:865px;font-size:16.5px;font-weight:400;color:#161616;font-family:"Liberation Sans", sans-serif;-webkit-text-stroke:0.18px;transform:scaleX(0.9501)'>reducing waste over thousands</span>
<span class="t" style='left:528.0px;top:882px;font-size:16.5px;font-weight:400;color:#161616;font-family:"Liberation Sans", sans-serif;-webkit-text-stroke:0.18px;transform:scaleX(0.9414)'>of batches.</span>
<span class="t" style='left:176.0px;top:935px;font-size:23.4px;font-weight:700;color:#2B0A05;font-family:"Liberation Sans", sans-serif;-webkit-text-stroke:0.12px;transform:scaleX(0.9141)'>Common Pitfalls &amp; Operational Demands</span>
<span class="t" style='left:68.5px;top:1072px;font-size:17.8px;font-weight:700;color:#161616;font-family:"Liberation Sans", sans-serif;-webkit-text-stroke:0.12px;transform:scaleX(0.9146)'>Poor Calibration</span>
<span class="t" style='left:37.5px;top:1094px;font-size:16.5px;font-weight:400;color:#161616;font-family:"Liberation Sans", sans-serif;-webkit-text-stroke:0.18px;transform:scaleX(0.9695)'>Scales drift without regular</span>
<span class="t" style='left:56.5px;top:1111px;font-size:16.5px;font-weight:400;color:#161616;font-family:"Liberation Sans", sans-serif;-webkit-text-stroke:0.18px;transform:scaleX(0.9587)'>calibration, leading to</span>
<span class="t" style='left:92.5px;top:1129px;font-size:16.5px;font-weight:400;color:#161616;font-family:"Liberation Sans", sans-serif;-webkit-text-stroke:0.18px;transform:scaleX(0.9607)'>inaccuracy.</span>
<span class="t" style='left:268.5px;top:1072px;font-size:17.8px;font-weight:700;color:#161616;font-family:"Liberation Sans", sans-serif;-webkit-text-stroke:0.12px;transform:scaleX(0.9366)'>Ignoring Variables (Moisture)</span>
<span class="t" style='left:278.0px;top:1093px;font-size:16.5px;font-weight:400;color:#161616;font-family:"Liberation Sans", sans-serif;-webkit-text-stroke:0.18px;transform:scaleX(0.9569)'>Failing to account for moisture</span>
<span class="t" style='left:308.5px;top:1111px;font-size:16.5px;font-weight:400;color:#161616;font-family:"Liberation Sans", sans-serif;-webkit-text-stroke:0.18px;transform:scaleX(0.9515)'>content in aggregates</span>
<span class="t" style='left:290.0px;top:1129px;font-size:16.5px;font-weight:400;color:#161616;font-family:"Liberation Sans", sans-serif;-webkit-text-stroke:0.18px;transform:scaleX(0.9536)'>compromises mix strength.</span>
<span class="t" style='left:580.5px;top:1072px;font-size:17.8px;font-weight:700;color:#161616;font-family:"Liberation Sans", sans-serif;-webkit-text-stroke:0.12px;transform:scaleX(0.9207)'>System Faults</span>
<span class="t" style='left:545.0px;top:1094px;font-size:16.5px;font-weight:400;color:#161616;font-family:"Liberation Sans", sans-serif;-webkit-text-stroke:0.18px;transform:scaleX(0.9426)'>Minor leaks or slow valves</span>
<span class="t" style='left:540.0px;top:1111px;font-size:16.5px;font-weight:400;color:#161616;font-family:"Liberation Sans", sans-serif;-webkit-text-stroke:0.18px;transform:scaleX(0.9536)'>introduce errors; immediate</span>
<span class="t" style='left:568.0px;top:1129px;font-size:16.5px;font-weight:400;color:#161616;font-family:"Liberation Sans", sans-serif;-webkit-text-stroke:0.18px;transform:scaleX(0.9335)'>maintenance is key.</span>
<span class="t" style='left:258.5px;top:1175px;font-size:23.4px;font-weight:700;color:#2B0A05;font-family:"Liberation Sans", sans-serif;-webkit-text-stroke:0.12px;transform:scaleX(0.9170)'>Summary Table &amp; Action</span>
<span class="t" style='left:106.5px;top:1220px;font-size:19.5px;font-weight:700;color:#161616;font-family:"Liberation Sans", sans-serif;-webkit-text-stroke:0.12px;transform:scaleX(0.8638)'>Function &amp; Key Impact</span>
<span class="t" style='left:31.0px;top:1266px;font-size:17px;font-weight:400;color:#161616;font-family:"Liberation Sans", sans-serif;-webkit-text-stroke:0.18px;transform:scaleX(0.9787)'>Accurate Weighing (Measures ingredients) -&gt;</span>
<span class="t" style='left:40.0px;top:1285px;font-size:17px;font-weight:400;color:#161616;font-family:"Liberation Sans", sans-serif;-webkit-text-stroke:0.18px;transform:scaleX(0.9750)'>Quality Assurance (Guarantees strength) &amp;</span>
<span class="t" style='left:58.5px;top:1304px;font-size:17px;font-weight:400;color:#161616;font-family:"Liberation Sans", sans-serif;-webkit-text-stroke:0.18px;transform:scaleX(0.9713)'>Cost Management (Prevents waste) &amp;</span>
<span class="t" style='left:26.0px;top:1324px;font-size:17px;font-weight:400;color:#161616;font-family:"Liberation Sans", sans-serif;-webkit-text-stroke:0.18px;transform:scaleX(0.9901)'>Operational Efficiency (Consistent throughput)</span>
<span class="t" style='left:404.0px;top:1216px;font-size:20px;font-weight:700;color:#161616;font-family:"Liberation Sans", sans-serif;-webkit-text-stroke:0.12px;transform:scaleX(0.8971)'>Is your metering system compromising</span>
<span class="t" style='left:466.5px;top:1238px;font-size:20px;font-weight:700;color:#161616;font-family:"Liberation Sans", sans-serif;-webkit-text-stroke:0.12px;transform:scaleX(0.9000)'>quality and profitability?</span>
<span class="t" style='left:428.0px;top:1276px;font-size:17px;font-weight:400;color:#161616;font-family:"Liberation Sans", sans-serif;-webkit-text-stroke:0.18px;transform:scaleX(0.9632)'>GARLWAY specializes in high-precision</span>
<span class="t" style='left:401.5px;top:1294px;font-size:17px;font-weight:400;color:#161616;font-family:"Liberation Sans", sans-serif;-webkit-text-stroke:0.18px;transform:scaleX(0.9939)'>concrete batching plants. Contact our experts</span>
<span class="t" style='left:413.0px;top:1314px;font-size:17px;font-weight:400;color:#161616;font-family:"Liberation Sans", sans-serif;-webkit-text-stroke:0.18px;transform:scaleX(0.9863)'>today to enhance performance and protect</span>
<span class="t" style='left:460.0px;top:1333px;font-size:17px;font-weight:400;color:#161616;font-family:"Liberation Sans", sans-serif;-webkit-text-stroke:0.18px;transform:scaleX(0.9908)'>your bottom line. <span style="color:#C98432">garlway.com</span></span>
</div>
</div></body></html>
